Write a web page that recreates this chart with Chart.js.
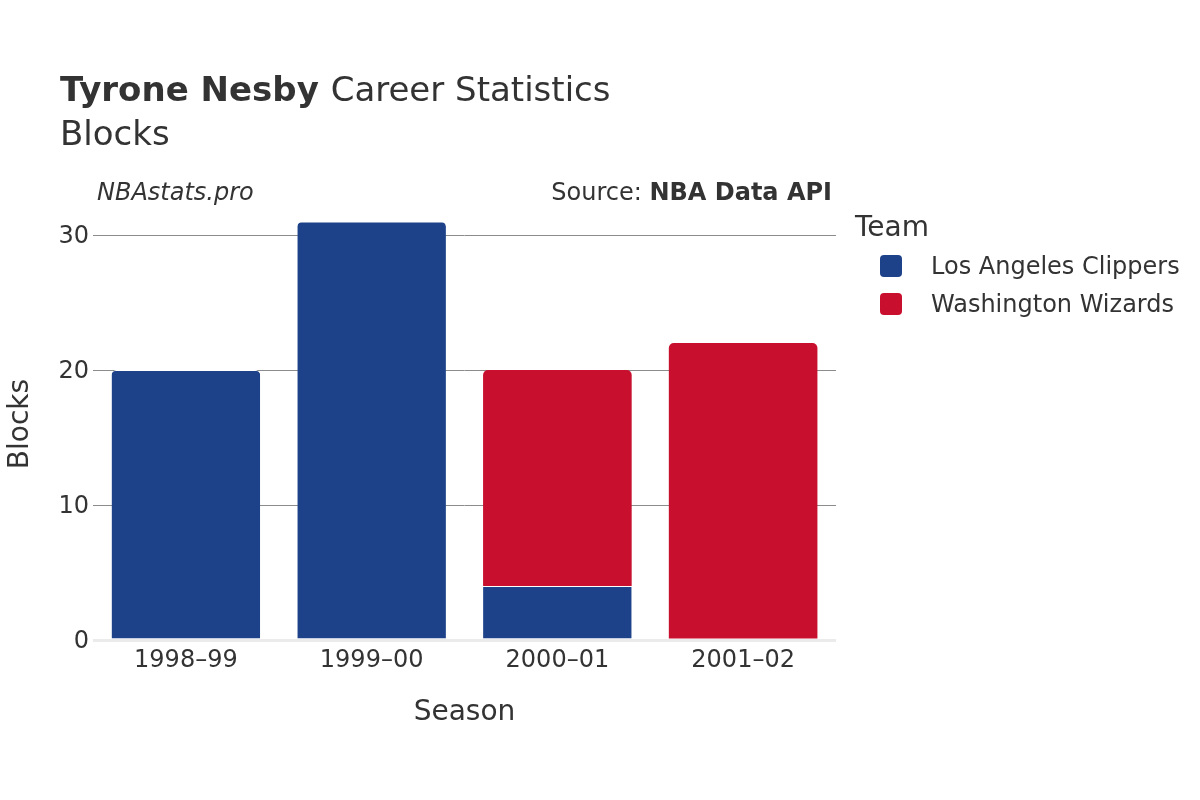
<!DOCTYPE html>
<html><head><meta charset="utf-8">
<script src="https://cdn.jsdelivr.net/npm/chart.js@4.4.1/dist/chart.umd.min.js"></script>
<style>html,body{margin:0;padding:0;background:#fff}#wrap{width:1200px;height:800px;position:relative}</style>
</head><body><div id="wrap"><canvas id="c" width="1200" height="800"></canvas></div>
<script>
const seasons = ["1998–99", "1999–00", "2000–01", "2001–02"];
const clippers = [20, 31, 4, 0];
const wizards = [0, 0, 16, 22];
const teamNames = ["Los Angeles Clippers", "Washington Wizards"];
const teamColors = ["#1d428a", "#c8102e"];
const yTicks = [0, 10, 20, 30];

const FONT = "'DejaVu Sans', sans-serif";
const TXT = "#333333";

const overlay = {
  id: 'overlay',
  afterDraw(chart) {
    const ctx = chart.ctx;
    ctx.save();
    ctx.fillStyle = TXT;
    ctx.textBaseline = 'alphabetic';
    ctx.textAlign = 'left';
    ctx.font = "bold 34px " + FONT;
    ctx.fillText("Tyrone Nesby", 60, 101);
    const w = ctx.measureText("Tyrone Nesby ").width;
    ctx.font = "34px " + FONT;
    ctx.fillText("Career Statistics", 60 + w, 101);
    ctx.fillText("Blocks", 60, 145);
    ctx.textBaseline = 'middle';
    ctx.font = "italic 24px " + FONT;
    ctx.fillText("NBAstats.pro", 97, 194);
    ctx.textAlign = 'right';
    ctx.font = "bold 24px " + FONT;
    ctx.fillText("NBA Data API", 832, 194);
    const bw = ctx.measureText("NBA Data API").width;
    ctx.font = "24px " + FONT;
    ctx.fillText("Source: ", 832 - bw, 194);
    // legend
    ctx.textAlign = 'left';
    ctx.font = "28px " + FONT;
    ctx.fillText("Team", 855, 229);
    ctx.font = "24px " + FONT;
    for (let i = 0; i < teamNames.length; i++) {
      const cy = 266 + i * 38;
      ctx.fillStyle = teamColors[i];
      ctx.beginPath();
      ctx.roundRect(880, cy - 11, 22, 22, 4);
      ctx.fill();
      ctx.fillStyle = TXT;
      ctx.fillText(teamNames[i], 931, cy + 2);
    }
    ctx.restore();
  }
};

new Chart(document.getElementById('c'), {
  type: 'bar',
  data: {
    labels: seasons,
    datasets: [
      {
        label: teamNames[0],
        data: clippers.map(v => v === 0 ? null : v),
        backgroundColor: teamColors[0],
        borderColor: '#ffffff',
        borderWidth: {top: 1, left: 0, right: 0, bottom: 0},
        borderSkipped: 'start',
        borderRadius: ctx => (wizards[ctx.dataIndex] > 0 ? 0 : {topLeft: 5, topRight: 5, bottomLeft: 0, bottomRight: 0}),
        categoryPercentage: 1.0,
        barPercentage: 0.8
      },
      {
        label: teamNames[1],
        data: wizards.map(v => v === 0 ? null : v),
        backgroundColor: teamColors[1],
        borderWidth: 0,
        borderSkipped: 'start',
        borderRadius: {topLeft: 5, topRight: 5, bottomLeft: 0, bottomRight: 0},
        categoryPercentage: 1.0,
        barPercentage: 0.8
      }
    ]
  },
  options: {
    responsive: false,
    animation: false,
    events: [],
    layout: {padding: {left: 0, right: 364, top: 208, bottom: 66}},
    plugins: {legend: {display: false}, tooltip: {enabled: false}, title: {display: false}},
    scales: {
      x: {
        stacked: true,
        grid: {display: false},
        border: {display: false},
        ticks: {color: TXT, font: {family: FONT, size: 24}, padding: -2, maxRotation: 0},
        title: {display: true, text: 'Season', color: TXT, font: {family: FONT, size: 28}, padding: {top: 10, bottom: 4}},
        afterFit: s => { s.height = 94; }
      },
      y: {
        stacked: true,
        min: 0,
        max: 32,
        afterBuildTicks: s => { s.ticks = yTicks.map(v => ({value: v})); },
        grid: {
          color: c => (c.tick && c.tick.value === 0 ? '#ebebeb' : '#8c8c8c'),
          lineWidth: c => (c.tick && c.tick.value === 0 ? 3 : 1),
          drawTicks: false
        },
        border: {display: false},
        ticks: {color: TXT, font: {family: FONT, size: 24}, padding: 4, labelOffset: 2},
        title: {display: true, text: 'Blocks', color: TXT, font: {family: FONT, size: 28}},
        afterFit: s => { s.width = 93; }
      }
    }
  },
  plugins: [overlay]
});
</script>
</body></html>
